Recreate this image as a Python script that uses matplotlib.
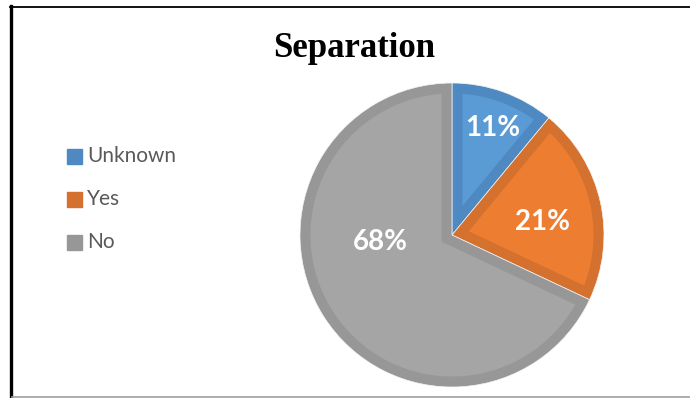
import matplotlib.pyplot as plt
from matplotlib.lines import Line2D
from matplotlib.patches import Polygon
import numpy as np

labels = ['Unknown', 'Yes', 'No']
shares = [11, 21, 68]
fill_colors = ['#5B9BD5', '#ED7D31', '#A5A5A5']
band_colors = ['#4F89C1', '#D5712E', '#979797']

# label placement inside each wedge: (angle in degrees, distance in px from centre)
label_pos = [(69, 115), (8, 91), (185.5, 72)]

W, H = 690, 398
BAND = 10.5


def u(deg):
    a = np.deg2rad(deg)
    return np.array([np.cos(a), np.sin(a)])


def inset_wedge(c, r, t1, t2, d):
    """Outline of a wedge shrunk inwards by d on every side (mitred corner)."""
    c = np.asarray(c, dtype=float)
    span = t2 - t1
    delta = np.rad2deg(np.arcsin(d / (r - d)))
    arc = [c + (r - d) * u(t) for t in np.linspace(t1 + delta, t2 - delta, 200)]
    apex = c + d / np.sin(np.deg2rad(span / 2)) * u(t1 + span / 2)
    return np.array(arc + [apex])


fig = plt.figure(figsize=(W / 100, H / 100), dpi=100)
ax = fig.add_axes([0, 0, 1, 1])

cx, cy, R = 452, H - 235, 152

wedges, _ = ax.pie(shares, colors=band_colors, startangle=90, counterclock=False,
                   center=(cx, cy), radius=R, frame=True,
                   wedgeprops=dict(edgecolor='#F4F4F4', linewidth=0.5))
for w, fc in zip(wedges, fill_colors):
    pts = inset_wedge(w.center, w.r, w.theta1, w.theta2, BAND)
    ax.add_patch(Polygon(pts, closed=True, facecolor=fc, edgecolor='none'))

ax.set_xlim(0, W)
ax.set_ylim(0, H)
ax.set_aspect('equal')
ax.axis('off')

for s, (ang, dist) in zip(shares, label_pos):
    p = np.array([cx, cy]) + dist * u(ang)
    ax.text(p[0], p[1], f'{s}%', ha='center', va='center', color='white',
            fontsize=20, fontweight='bold', family='Lato')

# title
fig.text(354.5 / W, 1 - 57 / H, 'Separation', ha='center', va='baseline',
         fontsize=25, fontweight='bold', family='Liberation Serif', color='black')

# legend
for i, (lab, bc) in enumerate(zip(labels, band_colors)):
    yc = 156 + i * 43
    fig.patches.append(plt.Rectangle((67 / W, 1 - (yc + 7.5) / H), 15 / W, 15 / H,
                                     transform=fig.transFigure, color=bc))
    fig.text(87 / W, 1 - yc / H, lab, ha='left', va='center', fontsize=15,
             family='Lato', color='#595959')

# frame
fig.lines.append(Line2D([11 / W, 11 / W], [0, 1 - 6 / H], transform=fig.transFigure,
                        color='black', linewidth=2.4))
fig.lines.append(Line2D([10 / W, 1], [1 - 6.5 / H, 1 - 6.5 / H], transform=fig.transFigure,
                        color='black', linewidth=1.3))
fig.lines.append(Line2D([12 / W, 1], [1 - 397 / H, 1 - 397 / H], transform=fig.transFigure,
                        color='#A0A0A0', linewidth=1.2))

fig.savefig('out.png', dpi=100, facecolor='white')
